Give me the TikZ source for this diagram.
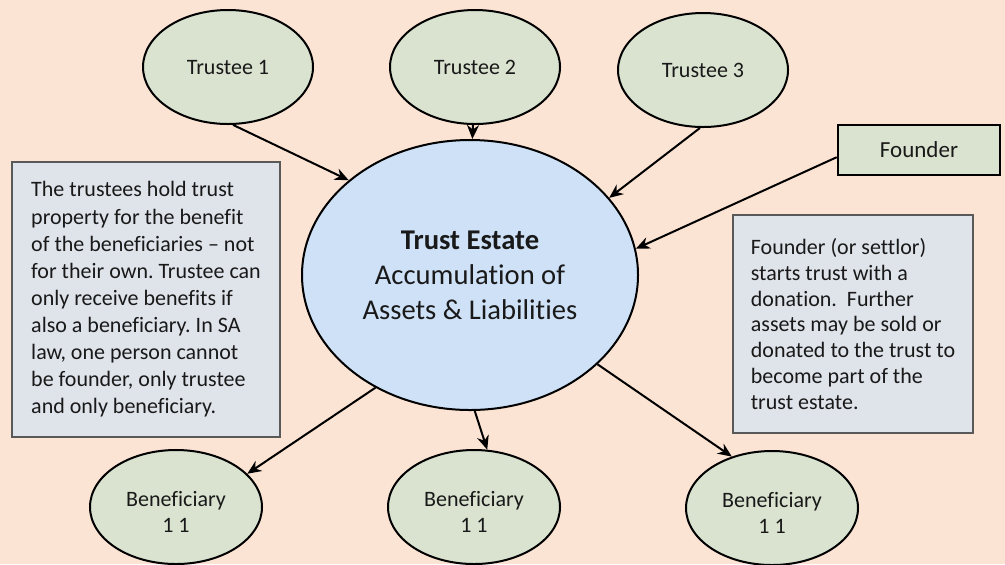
\documentclass[tikz,border=0pt]{standalone}
\usepackage{fontspec}
\setmainfont{Carlito}[Ligatures=NoCommon]
\usetikzlibrary{shapes.geometric,arrows.meta}
\definecolor{peach}{RGB}{252,228,212}
\definecolor{sage}{RGB}{218,227,208}
\definecolor{skyfill}{RGB}{206,225,247}
\definecolor{notefill}{RGB}{223,227,234}
\frenchspacing
% two-line label sitting a little below the middle
\newcommand{\benef}[1]{\raisebox{-6.25pt}[0pt][0pt]{\begin{tabular}{@{}c@{}}Beneficiary\\#1\end{tabular}}}

\begin{document}
\begin{tikzpicture}[x=0.5pt,y=-0.5pt,>={Stealth[length=7pt,width=6pt]},
  party/.style={ellipse,draw=black,line width=1pt,fill=sage,inner sep=0pt,
    minimum width=85pt,minimum height=57pt,align=center,text=black!90,
    font=\fontsize{11pt}{13pt}\selectfont},
  note/.style={draw=black!65,line width=1pt,fill=notefill,align=left,text=black!90},
  link/.style={->,line width=1pt}]
  \clip (0,0) rectangle (1005,564);
  \fill[peach] (0,0) rectangle (1005,564);

  % the estate in the middle
  \node[ellipse,draw,line width=1pt,fill=skyfill,inner sep=0pt,
    minimum width=168pt,minimum height=135pt,align=center,text=black!90,
    font=\fontsize{14.3pt}{17.5pt}\selectfont] (estate) at (470,275)
    {\textbf{Trust Estate}\\Accumulation of\\Assets \& Liabilities};

  % trustees on top
  \node[party] (t1) at (228,67) {Trustee 1};
  \node[party] (t2) at (475,67) {Trustee 2};
  \node[party] (t3) at (703,70) {Trustee 3};

  \node[draw,line width=1.3pt,fill=sage,inner sep=0pt,minimum width=81pt,
    minimum height=25pt,text=black!90,
    font=\fontsize{11.5pt}{14pt}\selectfont] (founder) at (919,150) {Founder};

  % beneficiaries below
  \node[party,minimum width=86pt] (b1) at (176,507) {\benef{1 1}};
  \node[party,minimum width=86pt] (b2) at (474,507) {\benef{1 1}};
  \node[party,minimum width=86pt] (b3) at (772,508) {\benef{1 1}};

  % side notes
  \node[note,minimum width=134pt,minimum height=137.5pt,
    font=\fontsize{11pt}{13.55pt}\selectfont] (rules) at (146,299.5)
    {The trustees hold trust\\property for the benefit\\of the beneficiaries -- not\\
     for their own. Trustee can\\only receive benefits if\\also a beneficiary. In SA\\
     law, one person cannot\\be founder, only trustee\\and only beneficiary.};
  \node[note,minimum width=120pt,minimum height=109pt,
    font=\fontsize{11pt}{12.85pt}\selectfont] (settlor) at (853,324)
    {Founder (or settlor)\\starts trust with a\\donation.\ \ Further\\
     assets may be sold or\\donated to the trust to\\become part of the\\trust estate.};

  \draw[link] (t1.-85) -- (estate.142);
  \draw[link] (t2.-92) -- (estate.89);
  \draw[link] (t3.-93) -- (estate.29);
  \draw[link] (founder.185) -- (estate.9);
  \draw[link] (estate.-130) -- (b1.25);
  \draw[link] (estate.-88) -- (b2.77);
  \draw[link] (estate.-35) -- (b3.128);
\end{tikzpicture}
\end{document}
